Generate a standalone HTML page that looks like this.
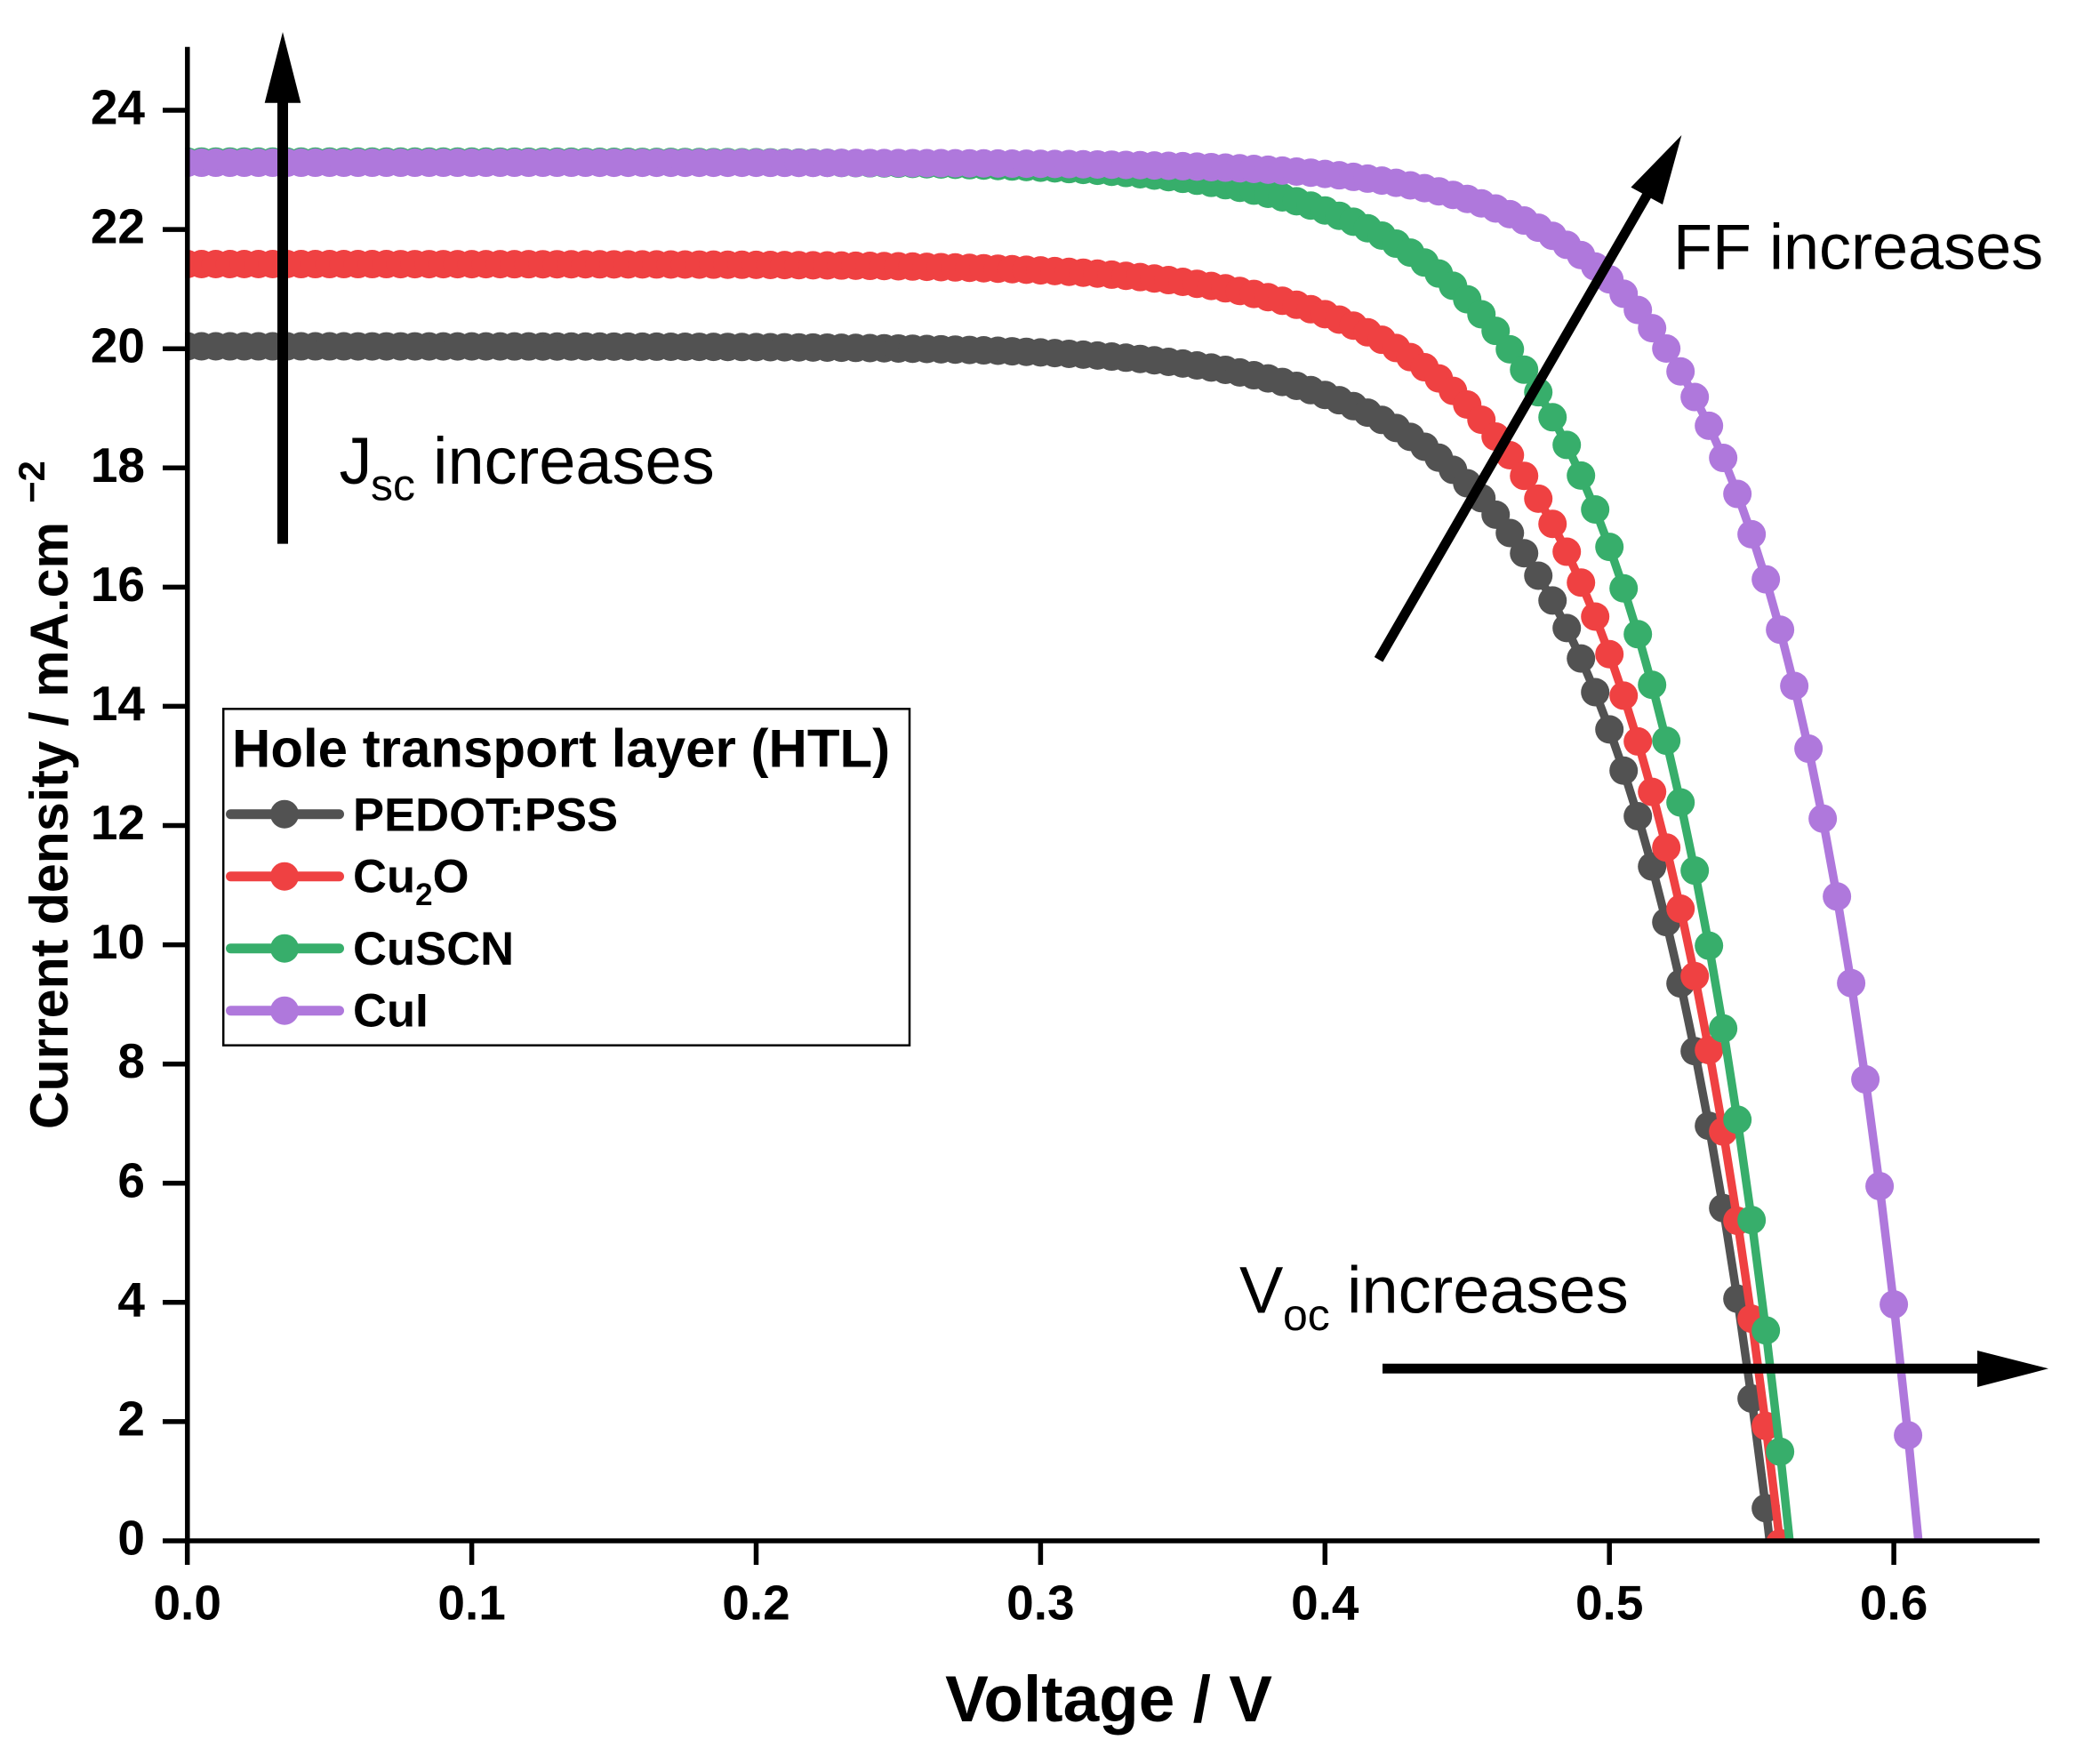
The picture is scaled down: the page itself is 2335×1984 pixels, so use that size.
<!DOCTYPE html>
<html>
<head>
<meta charset="utf-8">
<style>
html,body{margin:0;padding:0;background:#fff;}
svg{display:block;}
text{font-family:"Liberation Sans",Arial,sans-serif;fill:#000;}
.b{font-weight:bold;}
</style>
</head>
<body>
<svg id="chart" width="2335" height="1984" viewBox="0 0 2335 1984" xmlns="http://www.w3.org/2000/svg">
<defs>
<clipPath id="plotclip"><rect x="208" y="40" width="2086" height="1693"/></clipPath>
</defs>
<rect x="0" y="0" width="2335" height="1984" fill="#fff"/>

<g id="curves" clip-path="url(#plotclip)"></g>

<!-- axes -->
<g stroke="#000" stroke-width="5.5" fill="none">
<line x1="210.8" y1="52.7" x2="210.8" y2="1735.8"/>
<line x1="183" y1="1733" x2="2294" y2="1733"/>
<!-- y ticks -->
<line x1="183" y1="1598.9" x2="211" y2="1598.9"/>
<line x1="183" y1="1464.8" x2="211" y2="1464.8"/>
<line x1="183" y1="1330.8" x2="211" y2="1330.8"/>
<line x1="183" y1="1196.7" x2="211" y2="1196.7"/>
<line x1="183" y1="1062.6" x2="211" y2="1062.6"/>
<line x1="183" y1="928.5" x2="211" y2="928.5"/>
<line x1="183" y1="794.4" x2="211" y2="794.4"/>
<line x1="183" y1="660.4" x2="211" y2="660.4"/>
<line x1="183" y1="526.3" x2="211" y2="526.3"/>
<line x1="183" y1="392.2" x2="211" y2="392.2"/>
<line x1="183" y1="258.1" x2="211" y2="258.1"/>
<line x1="183" y1="124.0" x2="211" y2="124.0"/>
<!-- x ticks -->
<line x1="210.7" y1="1733" x2="210.7" y2="1760"/>
<line x1="530.6" y1="1733" x2="530.6" y2="1760"/>
<line x1="850.5" y1="1733" x2="850.5" y2="1760"/>
<line x1="1170.4" y1="1733" x2="1170.4" y2="1760"/>
<line x1="1490.3" y1="1733" x2="1490.3" y2="1760"/>
<line x1="1810.2" y1="1733" x2="1810.2" y2="1760"/>
<line x1="2130.1" y1="1733" x2="2130.1" y2="1760"/>
</g>

<!-- y tick labels -->
<g class="b" font-size="55" text-anchor="end">
<text x="163" y="1748.5">0</text>
<text x="163" y="1614.4">2</text>
<text x="163" y="1480.3">4</text>
<text x="163" y="1346.3">6</text>
<text x="163" y="1212.2">8</text>
<text x="163" y="1078.1">10</text>
<text x="163" y="944.0">12</text>
<text x="163" y="809.9">14</text>
<text x="163" y="675.9">16</text>
<text x="163" y="541.8">18</text>
<text x="163" y="407.7">20</text>
<text x="163" y="273.6">22</text>
<text x="163" y="139.5">24</text>
</g>

<!-- x tick labels -->
<g class="b" font-size="55" text-anchor="middle">
<text x="210.7" y="1821.7">0.0</text>
<text x="530.6" y="1821.7">0.1</text>
<text x="850.5" y="1821.7">0.2</text>
<text x="1170.4" y="1821.7">0.3</text>
<text x="1490.3" y="1821.7">0.4</text>
<text x="1810.2" y="1821.7">0.5</text>
<text x="2130.1" y="1821.7">0.6</text>
</g>

<!-- axis titles -->
<text class="b" x="1247" y="1936" font-size="73" text-anchor="middle">Voltage / V</text>
<text class="b" font-size="60" transform="translate(76,1270) rotate(-90)" textLength="683" lengthAdjust="spacingAndGlyphs">Current density / mA.cm</text>
<text class="b" font-size="42" transform="translate(50,566) rotate(-90)">−2</text>

<!-- legend -->
<rect x="251.2" y="797.3" width="771.8" height="378.4" fill="#fff" stroke="#000" stroke-width="2.5"/>
<text class="b" x="261" y="862.7" font-size="60">Hole transport layer (HTL)</text>
<g stroke-width="11" stroke-linecap="round">
<line x1="259.5" y1="915.7" x2="381.5" y2="915.7" stroke="#525252"/>
<line x1="259.5" y1="985.7" x2="381.5" y2="985.7" stroke="#EF4142"/>
<line x1="259.5" y1="1066.7" x2="381.5" y2="1066.7" stroke="#37AE6B"/>
<line x1="259.5" y1="1136.7" x2="381.5" y2="1136.7" stroke="#AF78DC"/>
</g>
<circle cx="320" cy="915.7" r="16" fill="#525252"/>
<circle cx="320" cy="985.7" r="16" fill="#EF4142"/>
<circle cx="320" cy="1066.7" r="16" fill="#37AE6B"/>
<circle cx="320" cy="1136.7" r="16" fill="#AF78DC"/>
<g class="b" font-size="52.6">
<text x="397" y="934.3">PEDOT:PSS</text>
<text x="397" y="1003.3">Cu<tspan font-size="35" y="1018">2</tspan><tspan y="1003.3">O</tspan></text>
<text x="397" y="1085">CuSCN</text>
<text x="397" y="1154.3">CuI</text>
</g>

<!-- Jsc arrow & text -->
<line x1="318" y1="611.6" x2="318" y2="110" stroke="#000" stroke-width="12"/>
<polygon points="318,36 297.7,115.7 338.3,115.7" fill="#000"/>
<text font-size="74" y="543.8"><tspan x="381.5">J</tspan><tspan x="417" y="562.5" font-size="50">sc</tspan><tspan x="487" y="543.8">increases</tspan></text>

<!-- FF arrow & text -->
<line x1="1550.6" y1="741.8" x2="1854" y2="216.8" stroke="#000" stroke-width="11"/>
<polygon points="1891.4,152 1834.4,210.6 1870,230" fill="#000"/>
<text x="1882" y="302.5" font-size="72">FF increases</text>

<!-- Voc arrow & text -->
<line x1="1555" y1="1539.3" x2="2228" y2="1539.3" stroke="#000" stroke-width="11"/>
<polygon points="2224,1519 2224,1560 2304,1539.3" fill="#000"/>
<text font-size="74" y="1476.7"><tspan x="1394">V</tspan><tspan x="1443" y="1496" font-size="50">oc</tspan><tspan x="1515" y="1476.7">increases</tspan></text>

<script>
(function(){
  var NS="http://www.w3.org/2000/svg";
  var g=document.getElementById("curves");
  var series=[
    {c:"#525252", Jsc:20.04, Voc:0.5564, a:0.0481, Rs:0.000125},
    {c:"#EF4142", Jsc:21.42, Voc:0.5599, a:0.0482, Rs:0.000185},
    {c:"#37AE6B", Jsc:23.14, Voc:0.5634, a:0.0481, Rs:0.000124},
    {c:"#AF78DC", Jsc:23.12, Voc:0.6087, a:0.0425, Rs:0.000177}
  ];
  function solve(V,p){
    var lo=-60, hi=p.Jsc*(1-1e-12);
    for(var i=0;i<100;i++){
      var mid=(lo+hi)/2;
      var f=p.Voc+p.a*Math.log(1-mid/p.Jsc)-p.Rs*mid-V;
      if(f>0) lo=mid; else hi=mid;
    }
    return (lo+hi)/2;
  }
  function X(v){return 210.7+3199*v;}
  function Y(j){return 1733-67.04*j;}
  series.forEach(function(p){
    var pts=[];
    for(var k=0;k<=130;k++){
      var V=k*0.005;
      var J=solve(V,p);
      pts.push([X(V),Y(J)]);
      if(J<0) break;
    }
    var d="M"+pts.map(function(q){return q[0].toFixed(2)+" "+q[1].toFixed(2);}).join(" L");
    var path=document.createElementNS(NS,"path");
    path.setAttribute("d",d);
    path.setAttribute("fill","none");
    path.setAttribute("stroke",p.c);
    path.setAttribute("stroke-width","9.5");
    path.setAttribute("stroke-linejoin","round");
    g.appendChild(path);
    pts.forEach(function(q){
      var c=document.createElementNS(NS,"circle");
      c.setAttribute("cx",q[0].toFixed(2));
      c.setAttribute("cy",q[1].toFixed(2));
      c.setAttribute("r","16");
      c.setAttribute("fill",p.c);
      g.appendChild(c);
    });
  });
})();
</script>
</svg>
</body>
</html>
